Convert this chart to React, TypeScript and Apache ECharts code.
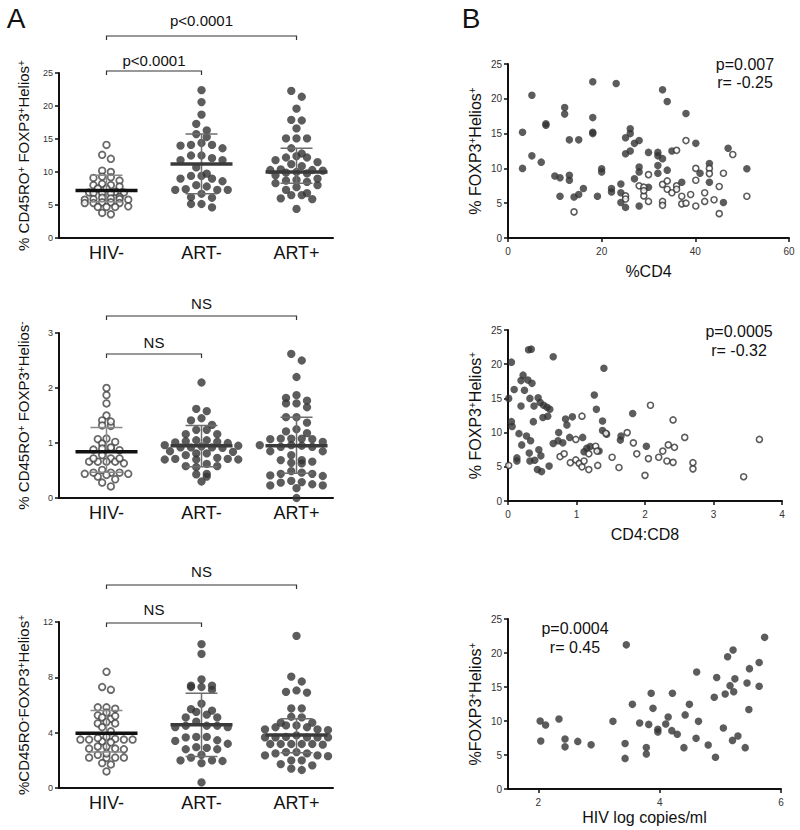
import React, { useEffect, useRef } from 'react';
import * as echarts from 'echarts';

const FONT = '"Liberation Sans", Arial, Helvetica, sans-serif';

const groupNames = ['HIV-', 'ART-', 'ART+'];

// ---------- Panel A1: % CD45RO+ FOXP3+ Helios+ ----------
const a1HivNeg = [14.1, 12.6, 12.0, 10.2, 10.0, 9.3, 9.1, 9.2, 8.7, 8.2, 8.0, 7.8, 8.0, 7.5, 7.5, 6.9, 7.0, 6.8, 6.8, 6.9, 6.8, 6.0, 5.8, 6.2, 5.9, 6.1, 5.9, 5.4, 5.3, 5.3, 5.3, 5.4, 5.8, 4.7, 4.8, 4.7, 4.7, 3.6, 3.8];
const a1ArtNeg = [22.4, 20.6, 18.7, 17.3, 16.3, 15.3, 15.75, 14.4, 14.1, 13.6, 14.0, 14.1, 12.1, 12.5, 11.8, 12.5, 11.8, 10.7, 9.75, 9.0, 8.6, 9.0, 9.4, 9.4, 7.8, 7.3, 7.3, 7.3, 7.4, 8.0, 6.2, 6.7, 6.1, 5.15, 4.65, 5.15];
const a1ArtPos = [22.3, 21.4, 19.6, 17.9, 17.8, 16.6, 15.1, 15.1, 15.1, 13.6, 12.8, 12.4, 12.2, 12.2, 11.8, 11.2, 11.5, 10.9, 10.0, 10.3, 10.4, 10.3, 9.8, 10.2, 9.9, 9.5, 8.0, 8.8, 8.5, 8.3, 8.7, 9.0, 7.7, 7.3, 6.0, 6.5, 6.5, 5.9, 6.8, 4.4];
const a1Median = [7.2, 11.2, 10.0];
const a1Q1 = [5.5, 6.7, 8.3];
const a1Q3 = [9.5, 15.75, 13.6];

// ---------- Panel A2: % CD45RO+ FOXP3+ Helios- ----------
const a2HivNeg = [2.0, 1.87, 1.72, 1.5, 1.41, 1.32, 1.31, 1.39, 1.07, 0.99, 1.02, 1.08, 0.9, 0.9, 0.87, 0.88, 0.92, 0.78, 0.72, 0.66, 0.66, 0.63, 0.66, 0.66, 0.72, 0.72, 0.51, 0.46, 0.44, 0.42, 0.39, 0.44, 0.46, 0.46, 0.34, 0.28, 0.21];
const a2ArtNeg = [2.1, 1.58, 1.62, 1.33, 1.45, 1.41, 1.24, 1.24, 1.16, 1.16, 1.0, 1.03, 1.05, 1.02, 1.01, 1.05, 0.95, 0.92, 0.92, 0.94, 0.92, 0.91, 0.96, 0.84, 0.81, 0.78, 0.81, 0.85, 0.7, 0.71, 0.7, 0.71, 0.7, 0.73, 0.58, 0.56, 0.58, 0.62, 0.43, 0.39, 0.44, 0.3];
const a2ArtPos = [2.62, 2.5, 2.2, 1.87, 1.82, 1.77, 1.72, 1.65, 1.72, 1.47, 1.47, 1.37, 1.18, 1.25, 1.21, 1.07, 1.02, 1.08, 1.08, 1.08, 1.07, 0.96, 0.95, 0.93, 0.93, 0.96, 0.96, 0.85, 0.85, 0.69, 0.69, 0.78, 0.66, 0.64, 0.63, 0.44, 0.4, 0.49, 0.46, 0.44, 0.41, 0.29, 0.25, 0.23, 0.23, 0.28, 0.31, 0.18, 0.0];
const a2Median = [0.84, 0.95, 0.95];
const a2Q1 = [0.47, 0.57, 0.45];
const a2Q3 = [1.28, 1.32, 1.47];

// ---------- Panel A3: % CD45RO- FOXP3+ Helios+ ----------
const a3HivNeg = [8.4, 7.3, 7.1, 5.83, 5.73, 5.83, 5.45, 5.25, 5.1, 5.0, 5.2, 4.67, 4.4, 4.67, 4.77, 4.1, 3.37, 3.6, 3.5, 3.5, 3.5, 3.5, 3.55, 3.7, 3.0, 2.85, 2.8, 2.85, 3.0, 3.3, 2.4, 2.2, 2.2, 2.17, 2.2, 2.5, 1.8, 1.7, 1.2];
const a3ArtNeg = [10.4, 9.7, 7.4, 7.3, 7.1, 7.3, 7.4, 7.85, 6.1, 5.5, 5.7, 5.6, 5.1, 5.3, 4.5, 4.4, 4.4, 4.5, 4.5, 4.8, 5.1, 3.4, 3.2, 3.7, 3.66, 3.7, 3.45, 2.9, 2.8, 2.8, 2.95, 2.4, 2.0, 1.95, 1.8, 2.0, 2.2, 0.4];
const a3ArtPos = [11.0, 7.7, 8.05, 6.95, 6.9, 7.05, 5.75, 5.75, 5.1, 5.15, 4.72, 4.53, 4.39, 4.24, 4.19, 4.24, 4.39, 4.53, 4.72, 3.7, 3.66, 3.66, 3.66, 3.66, 3.66, 3.8, 3.18, 3.13, 3.18, 3.18, 3.18, 3.18, 2.6, 2.5, 2.36, 2.3, 2.36, 2.5, 2.6, 2.0, 2.0, 1.64, 1.3, 1.4, 1.73];
const a3Median = [3.95, 4.58, 3.83];
const a3Q1 = [2.6, 2.27, 2.55];
const a3Q3 = [5.6, 6.85, 5.0];

// ---------- Panel B1: %CD4 vs % FOXP3+Helios+ ----------
const b1Filled = [[3.1, 15.2], [3.1, 10.0], [5.1, 20.5], [5.1, 11.8], [7.1, 10.9], [8.1, 16.4], [8.1, 16.2], [10.0, 8.9], [11.1, 8.65], [11.1, 6.0], [12.1, 18.75], [12.1, 17.8], [13.1, 14.1], [13.1, 9.0], [13.1, 8.3], [15.1, 14.1], [14.1, 5.9], [15.1, 6.25], [16.1, 7.1], [18.1, 22.45], [18.1, 17.3], [18.1, 15.2], [18.1, 15.0], [19.1, 6.0], [20.0, 9.95], [20.0, 9.5], [23.1, 22.2], [22.1, 7.1], [22.1, 6.6], [24.1, 7.75], [24.1, 6.5], [24.1, 5.1], [25.1, 4.4], [25.1, 14.4], [26.1, 15.7], [26.1, 15.0], [25.1, 12.1], [26.1, 12.5], [27.0, 13.6], [28.0, 14.0], [27.0, 8.5], [28.0, 10.2], [28.0, 9.5], [28.0, 4.6], [30.0, 12.3], [30.0, 7.3], [32.0, 12.3], [32.0, 11.8], [33.0, 21.3], [34.0, 19.6], [33.0, 11.4], [32.0, 10.4], [32.0, 9.3], [34.0, 9.75], [35.0, 12.5], [38.0, 17.9], [37.1, 8.0], [40.1, 13.6], [41.0, 9.3], [43.0, 10.7], [43.0, 8.0], [46.0, 5.1], [47.0, 12.9], [51.0, 9.95]];
const b1Open = [[14.1, 3.75], [25.1, 6.05], [25.1, 5.6], [28.0, 7.5], [29.0, 7.3], [29.0, 6.05], [29.0, 6.8], [30.0, 9.1], [30.0, 5.25], [33.0, 7.7], [33.0, 5.25], [33.0, 4.7], [34.0, 8.2], [34.0, 7.0], [35.0, 6.5], [36.0, 12.6], [36.0, 7.5], [36.0, 7.0], [37.1, 6.0], [37.1, 4.9], [38.0, 14.0], [38.0, 5.0], [39.0, 6.25], [40.1, 10.0], [40.1, 8.3], [40.1, 4.6], [42.0, 6.5], [42.0, 5.25], [43.0, 10.0], [43.0, 9.25], [44.0, 5.5], [45.1, 7.4], [45.1, 3.5], [46.0, 9.3], [48.0, 12.0], [51.0, 6.0]];

// ---------- Panel B2: CD4:CD8 vs % FOXP3+Helios+ ----------
const b2Filled = [[0.05, 20.3], [0.01, 15.0], [0.05, 11.6], [0.06, 10.9], [0.09, 16.3], [0.16, 9.85], [0.13, 6.3], [0.13, 5.85], [0.19, 13.9], [0.19, 17.6], [0.22, 18.4], [0.24, 16.2], [0.2, 8.2], [0.27, 9.5], [0.3, 22.1], [0.34, 22.2], [0.29, 17.7], [0.35, 17.2], [0.32, 15.0], [0.37, 11.6], [0.38, 13.9], [0.31, 7.0], [0.33, 8.8], [0.32, 5.85], [0.39, 5.95], [0.44, 15.1], [0.47, 14.4], [0.52, 14.0], [0.57, 13.7], [0.61, 13.4], [0.51, 12.2], [0.58, 12.4], [0.45, 7.5], [0.43, 4.6], [0.49, 4.3], [0.48, 6.6], [0.6, 5.1], [0.66, 21.1], [0.66, 8.4], [0.74, 10.0], [0.73, 8.8], [0.8, 8.5], [0.84, 12.0], [0.86, 11.1], [0.9, 9.3], [0.94, 12.3], [1.09, 9.3], [1.11, 7.2], [1.15, 7.7], [1.2, 7.95], [1.26, 15.5], [1.29, 13.4], [1.33, 7.3], [1.38, 11.7], [1.4, 19.4], [1.38, 10.3], [1.44, 9.75], [1.64, 8.9], [1.65, 9.5], [1.82, 12.8], [2.02, 8.0]];
const b2Open = [[0.01, 5.2], [0.76, 6.5], [0.82, 6.9], [0.91, 5.6], [0.99, 9.0], [0.99, 6.0], [1.04, 5.5], [1.08, 5.0], [1.08, 12.4], [1.11, 5.85], [1.18, 4.6], [1.18, 6.9], [1.28, 8.0], [1.31, 5.2], [1.3, 7.3], [1.43, 9.9], [1.52, 6.4], [1.62, 4.9], [1.74, 10.0], [1.83, 8.5], [1.88, 6.9], [2.0, 3.75], [2.05, 6.2], [2.08, 14.0], [2.2, 6.4], [2.26, 7.3], [2.32, 5.85], [2.34, 8.2], [2.41, 11.85], [2.41, 5.65], [2.43, 7.85], [2.58, 9.3], [2.7, 5.6], [2.7, 4.7], [3.44, 3.55], [3.67, 9.0]];

// ---------- Panel B3: HIV log copies/ml vs %FOXP3+Helios+ ----------
const b3Filled = [[2.03, 10.0], [2.12, 9.4], [2.04, 7.06], [2.34, 10.3], [2.44, 7.35], [2.44, 6.2], [2.65, 7.0], [2.87, 6.5], [3.23, 9.95], [3.45, 21.2], [3.43, 6.7], [3.43, 4.5], [3.55, 12.45], [3.67, 9.7], [3.78, 6.1], [3.78, 5.15], [3.82, 9.5], [3.86, 14.07], [3.89, 11.86], [3.97, 8.77], [3.97, 8.4], [4.1, 9.56], [4.14, 10.6], [4.21, 14.07], [4.2, 8.58], [4.29, 8.04], [4.4, 6.08], [4.42, 10.9], [4.49, 12.45], [4.61, 17.2], [4.64, 9.95], [4.6, 7.45], [4.8, 6.47], [4.92, 4.66], [4.94, 16.4], [4.9, 13.5], [5.05, 8.97], [5.08, 13.97], [5.12, 19.46], [5.16, 15.2], [5.21, 20.44], [5.24, 16.2], [5.22, 14.3], [5.2, 7.15], [5.29, 7.8], [5.41, 6.08], [5.44, 15.6], [5.47, 11.7], [5.48, 17.7], [5.64, 18.6], [5.64, 15.1], [5.73, 22.3]];

// ---------- layout constants ----------
const A_LEFT = 59;
const A_WIDTH = 274;
const A_XMIN = 0.5;
const A_XMAX = 3.384;
const A_PX = A_WIDTH / (A_XMAX - A_XMIN);
const xA = (c: number) => A_LEFT + (c - A_XMIN) * A_PX;

// Prism-style scatter-dot layout: values are grouped into rows (greedy, by pixel height,
// at most maxN per row) and each row is spread symmetrically around the group centre.
function rowSpread(values: number[], pxPerUnit: number, rowPx: number, spacing: number, maxN: number): number[] {
  const order = values.map((_, i) => i).sort((a, b) => values[b] - values[a]);
  const rows: number[][] = [];
  let start = Infinity;
  for (const i of order) {
    const y = values[i] * pxPerUnit;
    if (!rows.length || start - y > rowPx || rows[rows.length - 1].length >= maxN) { rows.push([i]); start = y; }
    else rows[rows.length - 1].push(i);
  }
  const out = new Array(values.length).fill(0);
  rows.forEach((idxs) => {
    const n = idxs.length;
    const slots: number[] = [];
    for (let j = 0; j < n; j++) slots.push((j - (n - 1) / 2) * spacing);
    slots.sort((a, b) => Math.abs(a) - Math.abs(b) || a - b);
    idxs.forEach((ix, j) => { out[ix] = slots[j]; });
  });
  return out;
}

const axisLine = { show: true, onZero: false, lineStyle: { color: '#111', width: 2 } };
const tickStyle = { show: true, length: 4, lineStyle: { color: '#111', width: 1.5 } };
const supRich = { sup: { fontSize: 10, verticalAlign: 'top', fontFamily: FONT, color: '#111' } };

function buildOption() {
  const grids: any[] = [];
  const xAxes: any[] = [];
  const yAxes: any[] = [];
  const series: any[] = [];
  const graphic: any[] = [];

  const aPanels = [
    { top: 73, height: 165, max: 25, interval: 5, name: '% CD45RO{sup|+} FOXP3{sup|+}Helios{sup|+}', groups: [a1HivNeg, a1ArtNeg, a1ArtPos], med: a1Median, q1: a1Q1, q3: a1Q3 },
    { top: 333, height: 165, max: 3, interval: 1, name: '% CD45RO{sup|+} FOXP3{sup|+}Helios{sup|-}', groups: [a2HivNeg, a2ArtNeg, a2ArtPos], med: a2Median, q1: a2Q1, q3: a2Q3 },
    { top: 622, height: 166, max: 12, interval: 4, name: '%CD45RO{sup|-}FOXP3{sup|+}Helios{sup|+}', groups: [a3HivNeg, a3ArtNeg, a3ArtPos], med: a3Median, q1: a3Q1, q3: a3Q3 },
  ];

  aPanels.forEach((p) => {
    const gi = grids.length;
    grids.push({ left: A_LEFT, top: p.top, width: A_WIDTH, height: p.height, containLabel: false, outerBoundsMode: 'none' });
    xAxes.push({
      type: 'value', gridIndex: gi, min: A_XMIN, max: A_XMAX,
      axisLine, axisTick: { show: false }, splitLine: { show: false },
      axisLabel: { customValues: [1, 2, 3], formatter: (v: number) => groupNames[Math.round(v) - 1] || '', fontSize: 18, color: '#111', fontFamily: FONT, margin: 6 },
    });
    yAxes.push({
      type: 'value', gridIndex: gi, min: 0, max: p.max, interval: p.interval,
      axisLine, axisTick: tickStyle, splitLine: { show: false },
      axisLabel: { fontSize: 9, color: '#333', fontFamily: FONT, margin: 6 },
      name: p.name, nameLocation: 'middle', nameGap: 28,
      nameTextStyle: { fontSize: 15, color: '#111', fontFamily: FONT, rich: supRich },
    });
    const pxPerUnit = p.height / p.max;
    p.groups.forEach((vals, gIdx) => {
      const open = gIdx === 0;
      const offs = open ? rowSpread(vals, pxPerUnit, 4.5, 8.7, 8) : rowSpread(vals, pxPerUnit, 7, 10.5, 8);
      series.push({
        type: 'scatter', xAxisIndex: gi, yAxisIndex: gi,
        data: vals.map((v, i) => [gIdx + 1 + offs[i] / A_PX, v]),
        symbol: 'circle', symbolSize: open ? 6.6 : 8.3,
        itemStyle: open ? { color: '#fff', borderColor: '#444', borderWidth: 1.8 } : { color: '#333', borderWidth: 0 },
        z: 2,
      });
    });
    series.push({
      type: 'custom', xAxisIndex: gi, yAxisIndex: gi, z: 5,
      data: p.med.map((m, i) => [i + 1, m, p.q1[i], p.q3[i]]),
      renderItem: (params: any, api: any) => {
        const c = api.value(0);
        const pm = api.coord([c, api.value(1)]);
        const pl = api.coord([c, api.value(2)]);
        const ph = api.coord([c, api.value(3)]);
        const idx = params.dataIndex;
        const wc = idx === 0 ? '#8a8a8a' : '#6e6e6e';
        const mc = idx === 0 ? '#111' : '#3a3a3a';
        return {
          type: 'group',
          children: [
            { type: 'line', shape: { x1: pl[0], y1: pl[1], x2: ph[0], y2: ph[1] }, style: { stroke: wc, lineWidth: 1.5 } },
            { type: 'line', shape: { x1: pl[0] - 16, y1: pl[1], x2: pl[0] + 16, y2: pl[1] }, style: { stroke: wc, lineWidth: 1.5 } },
            { type: 'line', shape: { x1: ph[0] - 16, y1: ph[1], x2: ph[0] + 16, y2: ph[1] }, style: { stroke: wc, lineWidth: 1.5 } },
            { type: 'line', shape: { x1: pm[0] - 31, y1: pm[1], x2: pm[0] + 31, y2: pm[1] }, style: { stroke: mc, lineWidth: 3.5 } },
          ],
        };
      },
    });
  });

  const bPanels = [
    { top: 64, height: 174, width: 281, xmin: 0, xmax: 60, xint: 20, yName: '% FOXP3{sup|+}Helios{sup|+}', xName: '%CD4', xGap: 25, filled: b1Filled, open: b1Open, custom: null as any },
    { top: 330, height: 171, width: 274, xmin: 0, xmax: 4, xint: 1, yName: '% FOXP3{sup|+}Helios{sup|+}', xName: 'CD4:CD8', xGap: 25, filled: b2Filled, open: b2Open, custom: null as any },
    { top: 619, height: 170, width: 273, xmin: 1.5, xmax: 6, xint: 0, yName: '%FOXP3{sup|+}Helios{sup|+}', xName: 'HIV log copies/ml', xGap: 20, filled: b3Filled, open: [] as number[][], custom: [2, 4, 6] },
  ];
  bPanels.forEach((p) => {
    const gi = grids.length;
    grids.push({ left: 508, top: p.top, width: p.width, height: p.height, containLabel: false, outerBoundsMode: 'none' });
    const xa: any = {
      type: 'value', gridIndex: gi, min: p.xmin, max: p.xmax,
      axisLine, splitLine: { show: false },
      axisTick: p.custom ? { ...tickStyle, customValues: p.custom } : tickStyle,
      axisLabel: p.custom ? { customValues: p.custom, fontSize: 10, color: '#333', fontFamily: FONT, margin: 8 } : { fontSize: 10, color: '#333', fontFamily: FONT, margin: 8 },
      name: p.xName, nameLocation: 'middle', nameGap: p.xGap,
      nameTextStyle: { fontSize: 16, color: '#111', fontFamily: FONT },
    };
    if (p.xint) xa.interval = p.xint;
    xAxes.push(xa);
    yAxes.push({
      type: 'value', gridIndex: gi, min: 0, max: 25, interval: 5,
      axisLine, axisTick: tickStyle, splitLine: { show: false },
      axisLabel: { fontSize: 10, color: '#333', fontFamily: FONT, margin: 6 },
      name: p.yName, nameLocation: 'middle', nameGap: 25,
      nameTextStyle: { fontSize: 16, color: '#111', fontFamily: FONT, rich: supRich },
    });
    series.push({
      type: 'scatter', xAxisIndex: gi, yAxisIndex: gi, data: p.filled,
      symbol: 'circle', symbolSize: 7.5, itemStyle: { color: '#333', borderWidth: 0 },
    });
    if (p.open.length) {
      series.push({
        type: 'scatter', xAxisIndex: gi, yAxisIndex: gi, data: p.open,
        symbol: 'circle', symbolSize: 6, itemStyle: { color: '#fff', borderColor: '#333', borderWidth: 1.6 },
      });
    }
  });

  const txt = (text: string, x: number, y: number, size: number) => ({
    type: 'text', z: 10,
    style: { text, x, y, font: `${size}px ${FONT}`, fill: '#111', textAlign: 'center', textVerticalAlign: 'middle', align: 'center', verticalAlign: 'middle' },
  });
  const bracket = (c1: number, c2: number, y: number) => ({
    type: 'polyline', z: 10,
    shape: { points: [[xA(c1), y + 4], [xA(c1), y], [xA(c2), y], [xA(c2), y + 4]] },
    style: { stroke: '#333', lineWidth: 1.2, fill: 'none' },
  });

  graphic.push(txt('A', 16, 18, 28), txt('B', 471, 18, 28));
  graphic.push(bracket(1, 3, 36), bracket(1, 2, 71));
  graphic.push(txt('p<0.0001', (xA(1) + xA(3)) / 2, 20, 15), txt('p<0.0001', (xA(1) + xA(2)) / 2, 60, 15));
  graphic.push(bracket(1, 3, 316), bracket(1, 2, 354));
  graphic.push(txt('NS', (xA(1) + xA(3)) / 2, 303, 15), txt('NS', (xA(1) + xA(2)) / 2, 342, 15));
  graphic.push(bracket(1, 3, 585), bracket(1, 2, 623));
  graphic.push(txt('NS', (xA(1) + xA(3)) / 2, 571, 15), txt('NS', (xA(1) + xA(2)) / 2, 609, 15));
  graphic.push(txt('p=0.007', 745, 64, 16), txt('r= -0.25', 745, 82, 16));
  graphic.push(txt('p=0.0005', 739, 331, 16), txt('r= -0.32', 739, 350, 16));
  graphic.push(txt('p=0.0004', 575, 628, 16), txt('r= 0.45', 575, 647, 16));

  return {
    animation: false,
    backgroundColor: '#fff',
    textStyle: { fontFamily: FONT },
    grid: grids,
    xAxis: xAxes,
    yAxis: yAxes,
    series,
    graphic,
  };
}

export default function App() {
  const ref = useRef<HTMLDivElement>(null);
  useEffect(() => {
    const chart = echarts.init(ref.current as HTMLDivElement, null, { renderer: 'svg' });
    chart.setOption(buildOption() as any);
    return () => chart.dispose();
  }, []);
  return <div ref={ref} style={{ position: 'absolute', left: 0, top: 0, width: 800, height: 830, background: '#fff' }} />;
}
